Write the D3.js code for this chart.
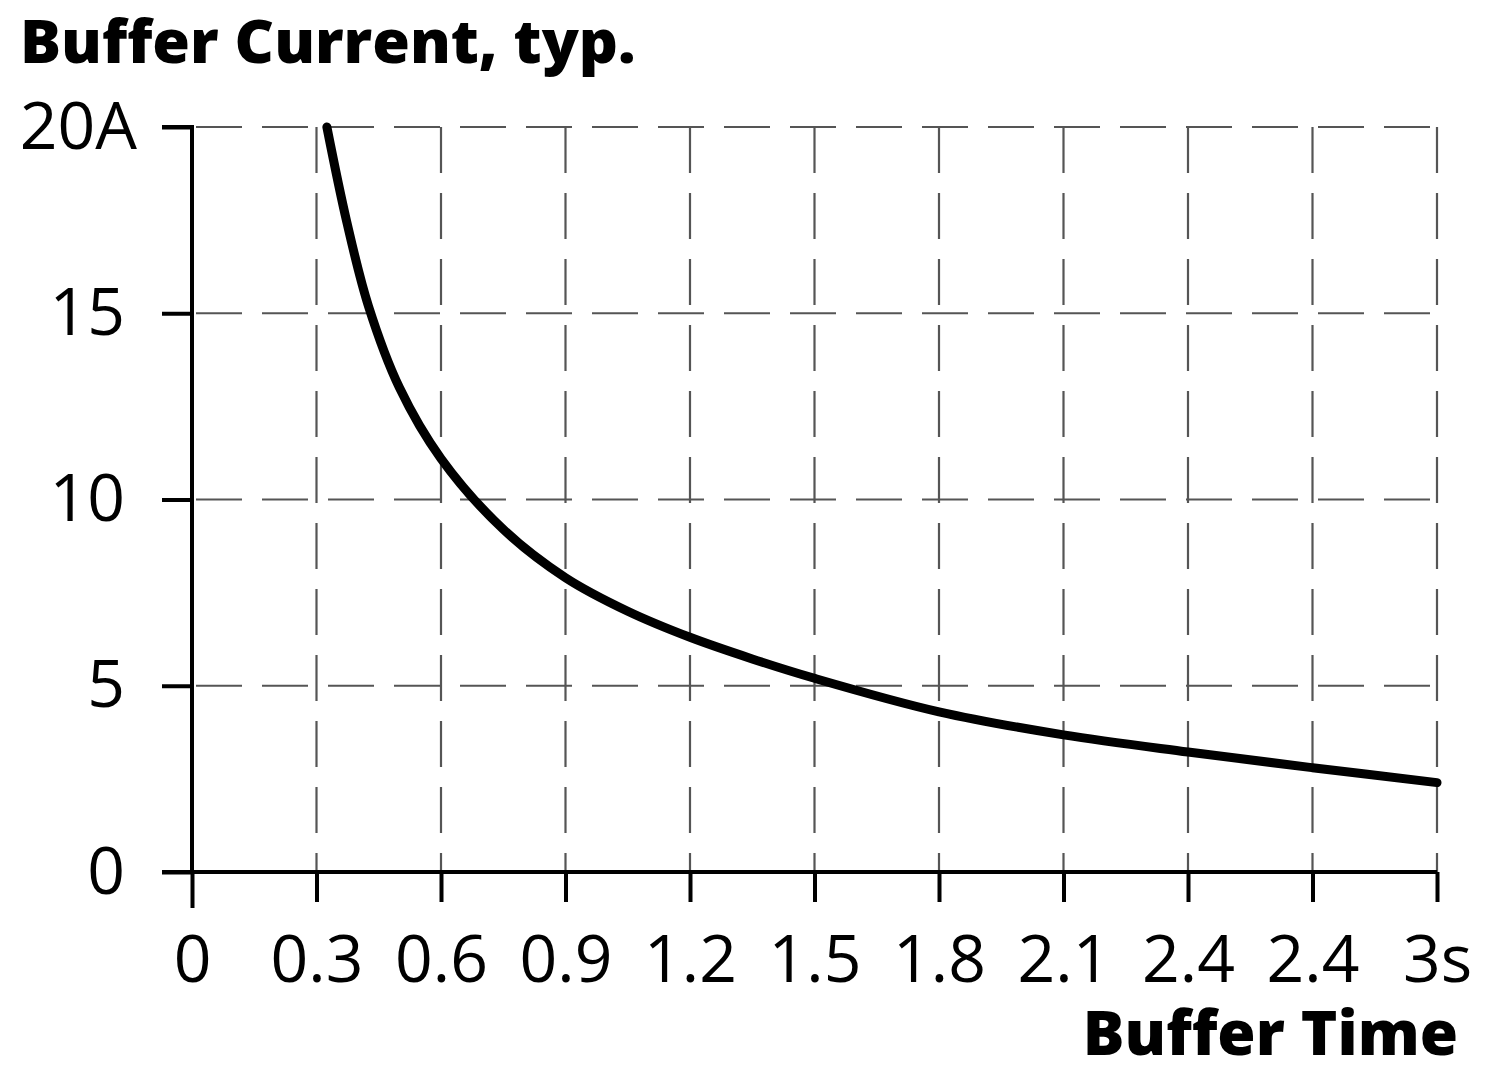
<!DOCTYPE html>
<html><head><meta charset="utf-8">
<script src="https://cdn.jsdelivr.net/npm/d3@7"></script>
<style>
html,body{margin:0;padding:0;background:#fff;}
svg{display:block;font-family:"Open Sans",sans-serif;}
</style></head>
<body><svg id="c" width="1500" height="1081"></svg>
<script>
const xTicks = [0, 0.3, 0.6, 0.9, 1.2, 1.5, 1.8, 2.1, 2.4, 2.7, 3.0];
const xTickLabels = ["0", "0.3", "0.6", "0.9", "1.2", "1.5", "1.8", "2.1", "2.4", "2.4", "3s"];
const yTicks = [0, 5, 10, 15, 20];
const yTickLabels = ["0", "5", "10", "15", "20A"];
const timeS = [0.325, 0.373, 0.425, 0.5, 0.6, 0.75, 0.9, 1.05, 1.2, 1.35, 1.5, 1.8, 2.1, 2.4, 2.7, 3.0];
const currentA = [20, 17.45, 15.2, 13.0, 11.1, 9.2, 7.9, 7.0, 6.3, 5.72, 5.2, 4.3, 3.68, 3.22, 2.8, 2.4];
const title = "Buffer Current, typ.";
const xTitle = "Buffer Time";

const svg = d3.select("#c");
const x = d3.scaleLinear().domain([0, 3]).range([192, 1437]);
const y = d3.scaleLinear().domain([0, 20]).range([872, 127]);

// grid
const grid = svg.append("g").attr("stroke", "#555").attr("stroke-width", 2.2).attr("stroke-dasharray", "46 20");
grid.selectAll("line.h").data(yTicks.filter(d => d > 0)).join("line")
  .attr("x1", x(0) + 4).attr("x2", x(3)).attr("y1", d => y(d)).attr("y2", d => y(d));
grid.selectAll("line.v").data(xTicks.filter(d => d > 0)).join("line")
  .attr("x1", d => x(d)).attr("x2", d => x(d)).attr("y1", y(20)).attr("y2", y(0));

// axes
const yAxis = d3.axisLeft(y).tickValues(yTicks).tickSize(30).tickPadding(37)
  .tickFormat((d, i) => yTickLabels[i]);
const gy = svg.append("g").attr("transform", `translate(${x(0)},0)`).call(yAxis);
const xAxis = d3.axisBottom(x).tickValues(xTicks).tickSize(30).tickPadding(33)
  .tickFormat((d, i) => xTickLabels[i]);
const gx = svg.append("g").attr("transform", `translate(0,${y(0)})`).call(xAxis);

[gx, gy].forEach(g => {
  g.select(".domain").attr("stroke", "#000").attr("stroke-width", 4);
  g.selectAll(".tick line").attr("stroke", "#000").attr("stroke-width", 4);
  g.selectAll(".tick text").attr("fill", "#000").attr("font-size", 66)
    .attr("font-family", "'Open Sans', sans-serif");
});
gx.select(".domain").attr("d", `M${x(0) - 30},0H${x(3)}`);
gx.selectAll(".tick text").attr("dy", "0.71em");
gx.selectAll(".tick").filter(d => d === 0).select("line").attr("y2", 36);
gy.selectAll(".tick").filter(d => d === 20).select("text").attr("dx", 12);
gy.select(".domain").attr("d", `M-30,${y(20)}H0V${y(0)}`);

// curve
const pts = timeS.map((t, i) => [t, currentA[i]]);
svg.append("path").datum(pts)
  .attr("fill", "none").attr("stroke", "#000").attr("stroke-width", 9).attr("stroke-linecap", "round")
  .attr("d", d3.line().x(d => x(d[0])).y(d => y(d[1])).curve(d3.curveCatmullRom.alpha(0.5)));

// titles
svg.append("text").attr("x", 20).attr("y", 63).attr("font-size", 61).attr("font-weight", 800)
  .attr("fill", "#000").text(title);
svg.append("text").attr("x", 1458).attr("y", 1055).attr("text-anchor", "end").attr("font-size", 62)
  .attr("font-weight", 800).attr("fill", "#000").text(xTitle);
</script></body></html>
